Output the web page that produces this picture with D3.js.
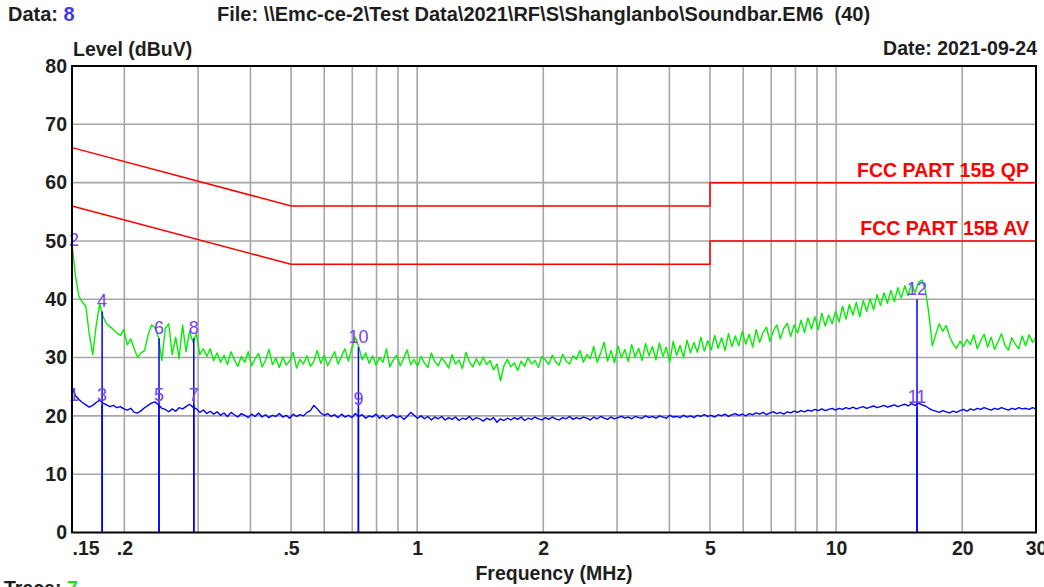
<!DOCTYPE html>
<html><head><meta charset="utf-8">
<script src="https://cdn.jsdelivr.net/npm/d3@7"></script>
<style>
html,body{margin:0;padding:0;background:#fff;overflow:hidden}
svg{display:block;font-family:"Liberation Sans",Arial,sans-serif}
</style></head>
<body>
<svg id="chart" width="1044" height="587"></svg>
<script>
// ---------- DATA ----------
const sweepStart = 0.15, sweepStop = 30; // MHz, log sweep
const greenTrace = [
49.5,44,40.5,39.5,38.8,34,30.5,35.5,39.2,37,35.8,35.3,34.8,34.2,33.8,34.8,32.2,33.2,31.5,30,
30.8,31.2,33.8,35.6,35.2,33.5,29.5,35,35.8,30.5,33.5,29.8,35.6,31,34.5,32.7,34,30.5,31.5,30.2,
31.5,29.5,30.8,29.2,30.4,28.8,31,29.6,28.5,30.2,29.2,31,28.6,29.8,30.7,28.4,29.5,31.4,28.8,29.9,
28.3,30.1,28.7,29.4,30.9,28.2,29.7,28.9,30.3,28.5,29.4,31.2,29,30.4,28.6,29.8,31,28.9,30.2,31.5,
29.4,31.6,33.5,31.8,29.6,30.8,29,30.3,28.7,30,29.2,31.5,28.4,29.6,30.4,28.6,29.9,31.3,28.8,29.7,
28.5,30.2,29.1,28.3,30.8,29.3,28.6,30,29.2,28.2,30.5,28.9,29.6,28.1,30.9,29.3,28.4,29.8,28.7,30.1,
28.8,29.5,27.9,28.9,26,28.6,29.7,28.4,29.1,27.8,29.4,28.5,30,28.9,29.5,28.3,30.2,29.6,28.8,30.4,
29.3,28.7,30.6,29.4,28.9,30.3,29.7,31.2,29.2,30.5,
29.8,31.9,29.2,30.8,32.6,29.4,31.2,29.1,32,30,31.4,29.3,32.2,30.1,31.6,29.5,32.4,30.3,31.9,29.6,
32.5,30.2,31.8,29.2,32.8,30.4,32.1,30,33,30.8,32.6,30.9,33.5,31.1,32.9,31.3,33.8,31.6,33.4,31.2,
34.1,31.9,33.7,32,34.5,32.3,34,31.8,34.8,32.6,34.3,35.2,32.8,34.6,35.6,33.2,35,35.9,33.6,35.6,
34.2,36.4,34.3,36.8,34.9,37,34.8,37.6,35.4,37.3,35.8,37.9,36.1,38.8,36.6,39.1,37.3,39.5,37,39.8,
37.9,40.1,38.2,40.8,38.9,41.1,39.3,41.5,39.6,42,40.2,42.3,40.6,42.8,41.1,42.9,43.3,41.5,37.5,32,
34,35.8,34.5,35.5,33.6,32.3,31.6,32.8,31.9,33.1,
32.2,33.9,31.5,32.9,34,31.8,33.5,31.4,32.7,34.1,32.1,31.3,33.4,32.3,31.5,33.7,32,33.9,32.6,33.5
];
const blueTrace = [
24.8,23.5,22.8,22.3,21.9,21.5,21.8,22.3,22.7,22.2,21.9,21.6,21.8,21.4,21.6,21.2,21,21.3,20.6,20.5,
20.9,21.4,21.8,22.2,22.4,21.9,21.3,21.1,20.7,21.2,20.8,21.4,21.2,21.6,22,21.5,21.2,20.6,21,20.4,
20.8,20.3,20.7,20.1,20.5,19.9,20.6,20.2,19.8,20.4,20.1,19.7,20.3,19.9,20.5,19.8,20.2,19.7,20.1,19.9,
20.4,19.8,20.1,19.6,20.3,19.9,20.2,20,20.6,20.9,21.8,21.2,20.5,20.1,20.4,19.9,20.2,19.7,20.3,19.8,
20.1,19.7,20.4,19.9,20.2,19.6,20,19.8,20.3,19.6,20.1,19.5,19.9,20.2,19.7,20,19.4,19.9,20.6,20.1,
19.6,20,19.5,19.9,19.3,19.8,19.5,19.9,19.3,19.7,19.4,19.8,19.2,19.6,19.4,19.9,19.3,19.7,19.5,19.1,
19.6,19.3,19.7,18.9,19.5,19.2,19.6,19.3,19.7,19.4,19.8,19.2,19.6,19.4,19.8,19.5,19.3,19.7,19.4,19.8,
19.5,19.3,19.7,19.5,19.9,19.4,19.7,19.5,19.8,19.6,19.3,19.8,19.5,19.9,19.6,19.4,19.8,19.5,19.7,19.9,
19.6,19.8,19.5,19.9,19.7,19.6,20,19.7,19.9,19.6,20,19.8,19.6,20.1,19.8,19.9,19.7,20.1,19.8,20,
19.7,20.1,19.9,20.2,19.9,20.1,19.8,20.2,20,20.3,19.9,20.2,20.4,20.1,20.3,20,20.4,20.2,20.5,20.3,
20.6,20.2,20.5,20.7,20.4,20.6,20.3,20.7,20.5,20.8,20.6,20.9,20.7,21,20.8,21.1,20.9,21.2,20.9,21.1,
21.3,21,21.3,21.1,21.4,21.2,21.5,21.2,21.4,21.6,21.3,21.5,21.7,21.4,21.6,21.8,21.5,21.7,21.9,21.6,
21.8,22,21.7,22.1,21.8,22.2,21.9,21.7,21.3,21,20.8,20.6,20.9,20.7,20.5,20.8,20.6,20.9,21.1,20.8,
21.2,21,21.3,21.1,21.4,21.2,21,21.3,21.1,21.4,21.2,21,21.3,21.1,21.4,21.2,21.3,21.1,21.4,21.2
];
const limitFreqs = [0.15, 0.5, 5, 5, 30];
const qpLimit    = [66, 56, 56, 60, 60];
const avLimit    = [56, 46, 46, 50, 50];
const markerIds    = [1, 2, 3, 4, 5, 6, 7, 8, 9, 10, 11, 12];
const markerFreqs  = [0.15, 0.15, 0.177, 0.177, 0.242, 0.242, 0.293, 0.293, 0.724, 0.724, 15.6, 15.6];
const markerLevels = [21.9, 48.5, 21.9, 37.9, 21.9, 33.3, 21.9, 33.3, 21.2, 31.8, 21.5, 40];
const yTicks = [0, 10, 20, 30, 40, 50, 60, 70, 80];
const xTicks = [0.15, 0.2, 0.5, 1, 2, 5, 10, 20, 30];
const xTickLabels = [".15", ".2", ".5", "1", "2", "5", "10", "20", "30"];
const gridFreqs = [0.2,0.3,0.4,0.5,0.6,0.7,0.8,0.9,1,2,3,4,5,6,7,8,9,10,20];

// ---------- LAYOUT ----------
const L = 72, R = 1036, T = 66, B = 532.5;
const svg = d3.select("#chart");
const x = d3.scaleLog().domain([sweepStart, sweepStop]).range([L, R]);
const y = d3.scaleLinear().domain([0, 80]).range([B, T]);
const nPts = greenTrace.length;
const freqAt = i => sweepStart * Math.pow(sweepStop / sweepStart, i / (nPts - 1));
const TXT = "#1e1e1e";

// gridlines
svg.append("g").selectAll("line").data(gridFreqs).join("line")
  .attr("x1", d => x(d)).attr("x2", d => x(d)).attr("y1", T).attr("y2", B)
  .attr("stroke", "#a6a6a6").attr("stroke-width", 1.6);
svg.append("g").selectAll("line").data(yTicks.slice(1, -1)).join("line")
  .attr("x1", L).attr("x2", R).attr("y1", d => y(d)).attr("y2", d => y(d))
  .attr("stroke", "#a6a6a6").attr("stroke-width", 1.6);

// limit lines
const limLine = arr => d3.line().x((d, i) => x(limitFreqs[i])).y(d => y(d))(arr);
svg.append("path").attr("d", limLine(qpLimit)).attr("fill", "none").attr("stroke", "#ff0000").attr("stroke-width", 1.5);
svg.append("path").attr("d", limLine(avLimit)).attr("fill", "none").attr("stroke", "#ff0000").attr("stroke-width", 1.5);
svg.append("text").attr("x", 1029).attr("y", 177).attr("text-anchor", "end")
  .attr("fill", "#ff0000").attr("font-weight", "bold").attr("font-size", "19.5px").text("FCC PART 15B QP");
svg.append("text").attr("x", 1029).attr("y", 235).attr("text-anchor", "end")
  .attr("fill", "#ff0000").attr("font-weight", "bold").attr("font-size", "19.5px").text("FCC PART 15B AV");

// traces
const traceLine = d3.line().x((d, i) => x(freqAt(i))).y(d => y(d));
svg.append("path").attr("d", traceLine(greenTrace)).attr("fill", "none")
  .attr("stroke", "#00f000").attr("stroke-width", 1.4).attr("stroke-linejoin", "round");
svg.append("path").attr("d", traceLine(blueTrace)).attr("fill", "none")
  .attr("stroke", "#0000ff").attr("stroke-width", 1.4).attr("stroke-linejoin", "round");

// markers
const mk = markerIds.map((id, i) => ({id, f: markerFreqs[i], v: markerLevels[i]}));
svg.append("g").selectAll("line").data(mk).join("line")
  .attr("x1", d => x(d.f)).attr("x2", d => x(d.f)).attr("y1", B).attr("y2", d => y(d.v))
  .attr("stroke", "#0000ff").attr("stroke-width", 1.5);
svg.append("g").selectAll("text").data(mk).join("text")
  .attr("x", d => x(d.f) + (d.f === sweepStart ? 2 : 0)).attr("y", d => y(d.v) - 4).attr("text-anchor", "middle")
  .attr("font-size", "18px").attr("fill", "#7a44f0").text(d => d.id);

// axes
const yAxis = svg.append("g").attr("transform", `translate(${L},0)`)
  .call(d3.axisLeft(y).tickValues(yTicks).tickSize(0).tickPadding(5));
yAxis.select(".domain").remove();
yAxis.selectAll("text").attr("font-size", "19.5px").attr("font-weight", "bold")
  .attr("fill", TXT).attr("font-family", "Liberation Sans, Arial, sans-serif");
const xAxis = svg.append("g").attr("transform", `translate(0,${B})`)
  .call(d3.axisBottom(x).tickValues(xTicks).tickSize(0).tickPadding(9)
    .tickFormat((d, i) => xTickLabels[i]));
xAxis.select(".domain").remove();
xAxis.selectAll("text").attr("font-size", "19.5px").attr("font-weight", "bold")
  .attr("fill", TXT).attr("font-family", "Liberation Sans, Arial, sans-serif")
  .attr("text-anchor", (d, i) => i === 0 ? "start" : "middle");

// frame
svg.append("rect").attr("x", L).attr("y", T).attr("width", R - L).attr("height", B - T)
  .attr("fill", "none").attr("stroke", "#000").attr("stroke-width", 2);

// header / titles
const hdr = svg.append("text").attr("x", 8).attr("y", 21).attr("font-size", "20px").attr("font-weight", "bold").attr("fill", TXT);
hdr.append("tspan").text("Data: ");
hdr.append("tspan").attr("fill", "#4038f0").text("8");
svg.append("text").attr("x", 217).attr("y", 21).attr("font-size", "20px").attr("font-weight", "bold")
  .attr("fill", TXT).style("white-space", "pre")
  .text("File: \\\\Emc-ce-2\\Test Data\\2021\\RF\\S\\Shanglanbo\\Soundbar.EM6  (40)");
svg.append("text").attr("x", 1037).attr("y", 55).attr("text-anchor", "end").attr("font-size", "19.5px")
  .attr("font-weight", "bold").attr("fill", TXT).text("Date: 2021-09-24");
svg.append("text").attr("x", 73).attr("y", 56).attr("font-size", "19.5px")
  .attr("font-weight", "bold").attr("fill", TXT).text("Level (dBuV)");
svg.append("text").attr("x", 554).attr("y", 580).attr("text-anchor", "middle").attr("font-size", "19.5px")
  .attr("font-weight", "bold").attr("fill", TXT).text("Frequency (MHz)");
const tr = svg.append("text").attr("x", 4).attr("y", 595).attr("font-size", "19.5px").attr("font-weight", "bold").attr("fill", TXT);
tr.append("tspan").text("Trace: ");
tr.append("tspan").attr("fill", "#22dd22").text("7");
</script>
</body></html>
